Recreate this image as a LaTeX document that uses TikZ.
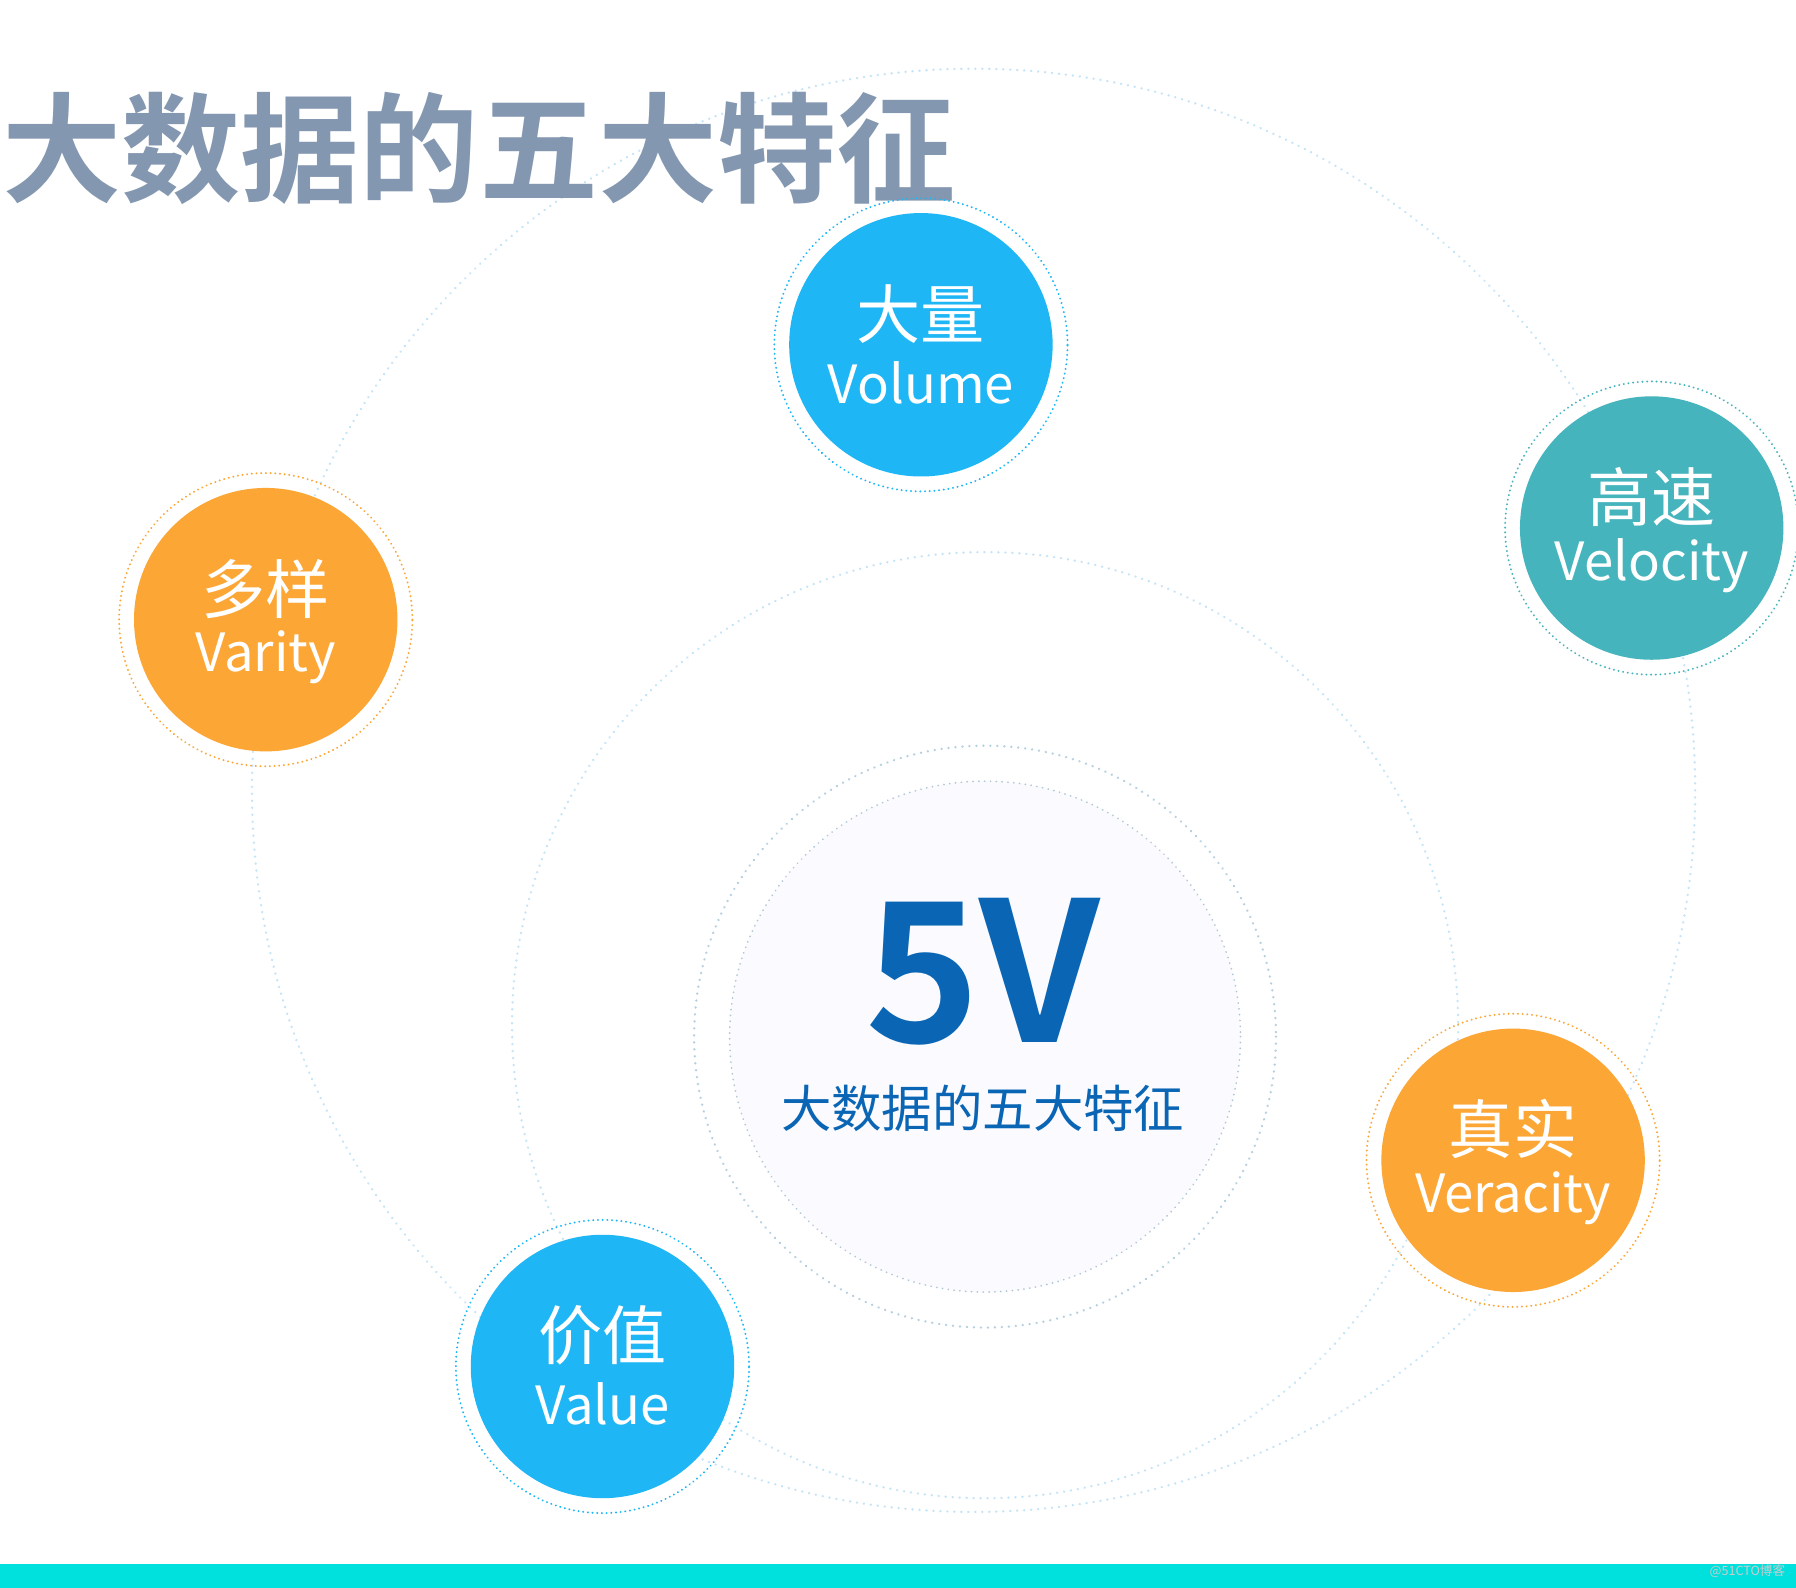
\documentclass[tikz,border=0pt]{standalone}
\usepackage{fontspec}
\setmainfont{Noto Sans CJK SC}
\newfontfamily\cjkb{Noto Sans CJK SC Bold}
\definecolor{tgray}{HTML}{8497B0}
\definecolor{cblue}{HTML}{1EB6F5}
\definecolor{cteal}{HTML}{46B4BC}
\definecolor{corange}{HTML}{FBA635}
\definecolor{dblue}{HTML}{0A66B4}
\definecolor{ldot}{HTML}{C4E4F8}
\definecolor{bar}{HTML}{00E0DC}
\tikzset{
  ring/.style={draw=ldot, line width=2.2pt, dash pattern=on 0.1pt off 6pt, line cap=round},
  bub/.style={circle, fill=#1, minimum size=230pt, inner sep=0pt, text=white, align=center},
  halo/.style={circle, draw=#1, line width=1.8pt, dash pattern=on 0.1pt off 4pt, line cap=round, minimum size=256pt, inner sep=0pt},
  cn/.style={font=\fontsize{56}{60}\selectfont},
  en/.style={font=\fontsize{46}{50}\selectfont}
}
\begin{document}
\begin{tikzpicture}[x=1pt,y=-1pt]
\useasboundingbox (0,0) rectangle (1568,1386);
\fill[white] (0,0) rectangle (1568,1386);
\fill[bar] (0,1365) rectangle (1568,1386);
\node[anchor=east, text=gray!40, font=\fontsize{11}{12}\selectfont] (wm) at (1562,1372) {@51CTO博客};
% rings
\draw[ring] (850,690) circle (630);
\draw[ring] (860,895) circle (413);
\draw[ring, draw=ldot!80!gray] (860,905) circle (254);
\draw[fill=blue!2, draw=ldot!70!gray, line width=1.6pt, dash pattern=on 0.1pt off 5pt, line cap=round] (860,905) circle (223);
\node[text=dblue, font=\cjkb\fontsize{170}{170}\selectfont] (fv) at (858,848) {5V};
\node[text=dblue, font=\fontsize{44}{48}\selectfont] (sub) at (858,968) {大数据的五大特征};
% title
\node[anchor=west, text=tgray, inner sep=0pt, font=\cjkb\fontsize{104}{110}\selectfont] (title) at (2,130) {大数据的五大特征};
% bubbles
\foreach \n/\x/\y/\c/\a/\b in {vol/804/301/cblue/大量/Volume, vel/1442/461/cteal/高速/Velocity, var/232/541/corange/多样/Varity, ver/1321/1013/corange/真实/Veracity, val/526/1193/cblue/价值/Value}{
  \node[halo=\c] (\n h) at (\x,\y) {};
  \node[bub=\c] (\n) at (\x,\y) {};
  \node[cn, text=white] (\n a) at (\x,\y-27) {\a};
  \node[en, text=white] (\n b) at (\x,\y+33) {\b};
}
\end{tikzpicture}
\end{document}
